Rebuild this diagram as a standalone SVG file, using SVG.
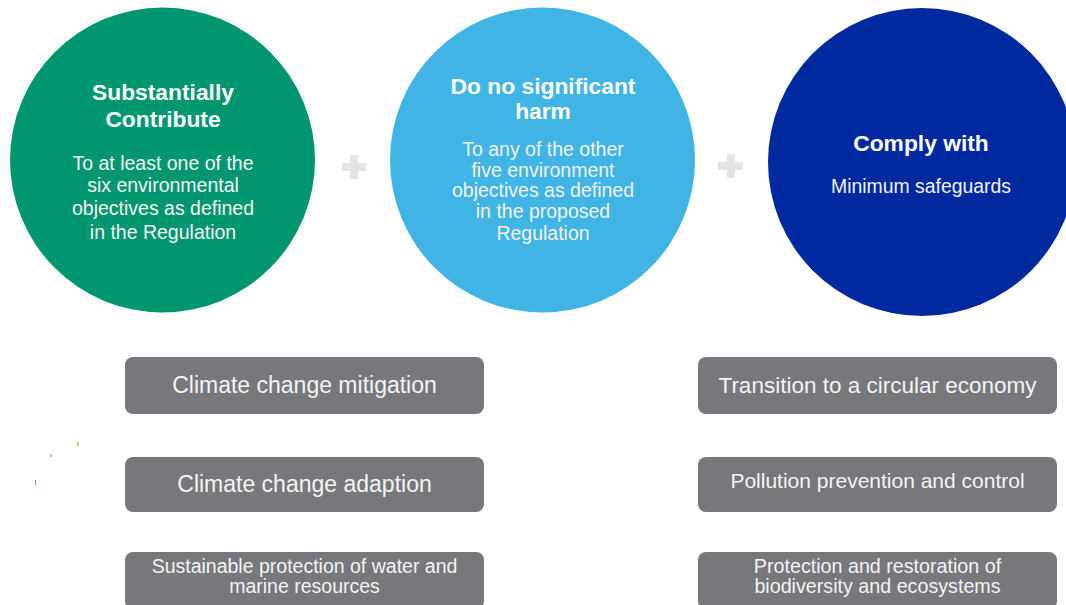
<svg xmlns="http://www.w3.org/2000/svg" width="1066" height="605" viewBox="0 0 1066 605">
<style>
.t{font-family:"Liberation Sans",Arial,sans-serif;fill:#ffffff;text-anchor:middle;font-weight:bold;font-size:22.8px}
.b{font-family:"Liberation Sans",Arial,sans-serif;fill:#f2f2f2;text-anchor:middle;font-size:19.5px}
.box{fill:#76787b}
.bt{font-family:"Liberation Sans",Arial,sans-serif;fill:#f4f4f4;text-anchor:middle}
.plus{fill:#e4e4e4}
</style>
<rect width="1066" height="605" fill="#ffffff"/>
<g id="circle-contribute">
<circle cx="162.5" cy="160" r="152.5" fill="#009670"/>
<text class="t" x="163" y="100">Substantially</text>
<text class="t" x="163" y="127">Contribute</text>
<text class="b" x="163" y="170">To at least one of the</text>
<text class="b" x="163" y="192">six environmental</text>
<text class="b" x="163" y="215">objectives as defined</text>
<text class="b" x="163" y="239">in the Regulation</text>
</g>
<g id="plus-1"><rect class="plus" x="342" y="163" width="24" height="8"/><rect class="plus" x="350" y="155" width="8" height="24"/></g>
<g id="circle-dnsh">
<circle cx="542.5" cy="160" r="152.5" fill="#41b4e6"/>
<text class="t" x="543" y="94">Do no significant</text>
<text class="t" x="543" y="119">harm</text>
<text class="b" x="543" y="156">To any of the other</text>
<text class="b" x="543" y="177">five environment</text>
<text class="b" x="543" y="197">objectives as defined</text>
<text class="b" x="543" y="218">in the proposed</text>
<text class="b" x="543" y="240">Regulation</text>
</g>
<g id="plus-2"><rect class="plus" x="718" y="162" width="25" height="8"/><rect class="plus" x="727" y="154" width="8" height="24"/></g>
<g id="circle-comply">
<circle cx="922" cy="162" r="154" fill="#0029a0"/>
<text class="t" x="921" y="151">Comply with</text>
<text class="b" x="921" y="193" style="font-size:19.4px">Minimum safeguards</text>
</g>
<g id="box-mitigation"><rect class="box" x="125" y="357" width="359" height="57" rx="8"/><text class="bt" x="304.5" y="393" font-size="23">Climate change mitigation</text></g>
<g id="box-adaption"><rect class="box" x="125" y="457" width="359" height="55" rx="8"/><text class="bt" x="304.5" y="492" font-size="23">Climate change adaption</text></g>
<g id="box-water"><rect class="box" x="125" y="552" width="359" height="57" rx="8"/><text class="bt" x="304.5" y="573" font-size="19.5">Sustainable protection of water and</text><text class="bt" x="304.5" y="593" font-size="19.5">marine resources</text></g>
<g id="box-circular"><rect class="box" x="698" y="357" width="359" height="57" rx="8"/><text class="bt" x="877.5" y="393" font-size="22.5">Transition to a circular economy</text></g>
<g id="box-pollution"><rect class="box" x="698" y="457" width="359" height="55" rx="8"/><text class="bt" x="877.5" y="488" font-size="21">Pollution prevention and control</text></g>
<g id="box-biodiversity"><rect class="box" x="698" y="552" width="359" height="57" rx="8"/><text class="bt" x="877.5" y="573" font-size="19.7">Protection and restoration of</text><text class="bt" x="877.5" y="593" font-size="19.7">biodiversity and ecosystems</text></g>
<g id="connectors"></g>
<g id="marks">
<rect x="77" y="442" width="2" height="4" fill="#a8d88a"/>
<rect x="50" y="454" width="2" height="3" fill="#a8d88a"/>
<rect x="35" y="480" width="1" height="5" fill="#e07a50"/>
</g>
</svg>
